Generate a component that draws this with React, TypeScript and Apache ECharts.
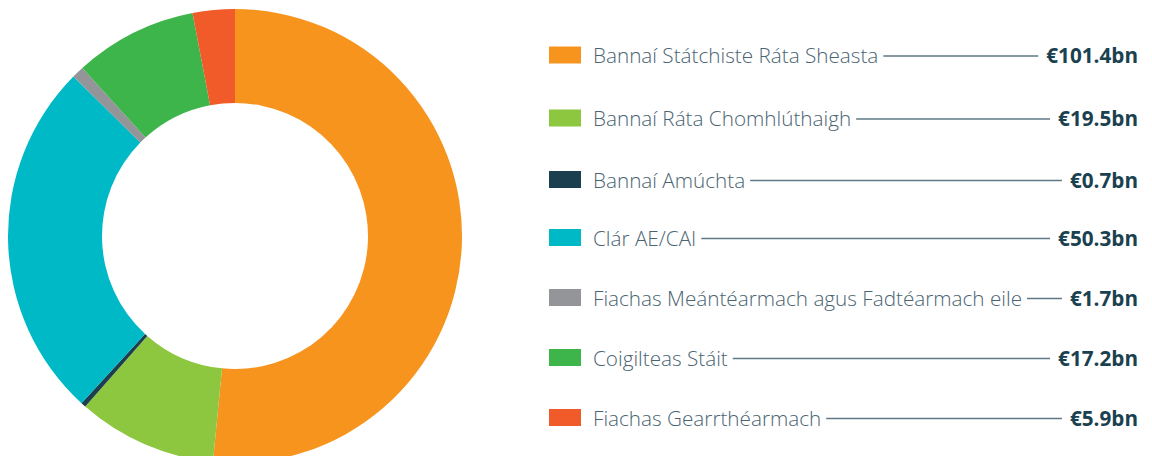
import React, { useEffect, useRef } from "react";
import * as echarts from "echarts";

const categories = [
  "Bannaí Státchiste Ráta Sheasta",
  "Bannaí Ráta Chomhlúthaigh",
  "Bannaí Amúchta",
  "Clár AE/CAI",
  "Fiachas Meántéarmach agus Fadtéarmach eile",
  "Coigilteas Stáit",
  "Fiachas Gearrthéarmach",
];
const values = [101.4, 19.5, 0.7, 50.3, 1.7, 17.2, 5.9];
const valueLabels = ["€101.4bn", "€19.5bn", "€0.7bn", "€50.3bn", "€1.7bn", "€17.2bn", "€5.9bn"];
const colors = ["#F7941E", "#8DC63F", "#1B3F4E", "#00B9C6", "#939598", "#3DB54A", "#F15A29"];

const FONT = "'Open Sans', 'Noto Sans', sans-serif";
const LABEL_SIZE = 20.7;
const rowY = [55, 118, 179.5, 237.5, 297.5, 357.5, 417.5];

function measure(text: string, font: string): number {
  const c = document.createElement("canvas").getContext("2d")!;
  c.font = font;
  return c.measureText(text).width;
}

export default function App() {
  const ref = useRef<HTMLDivElement>(null);
  useEffect(() => {
    const chart = echarts.init(ref.current!, null, { renderer: "svg" });
    const squareX = 549;
    const textX = 593;
    const rightX = 1138;
    const graphics: any[] = [];
    categories.forEach((name, i) => {
      const y = rowY[i];
      const lw = measure(name, `300 ${LABEL_SIZE}px ${FONT}`);
      const vw = measure(valueLabels[i], `700 ${LABEL_SIZE}px ${FONT}`);
      graphics.push({
        type: "rect",
        shape: { x: squareX, y: y - 8.5, width: 32, height: 17 },
        style: { fill: colors[i] },
      });
      graphics.push({
        type: "text",
        x: textX,
        y,
        style: {
          text: name,
          font: `300 ${LABEL_SIZE}px ${FONT}`,
          fill: "#4A6472",
          verticalAlign: "middle",
          align: "left",
        },
      });
      graphics.push({
        type: "line",
        shape: { x1: textX + lw + 5, y1: y + 1, x2: rightX - vw - 8, y2: y + 1 },
        style: { stroke: "#5F7A86", lineWidth: 1.3 },
      });
      graphics.push({
        type: "text",
        x: rightX,
        y,
        style: {
          text: valueLabels[i],
          font: `700 ${LABEL_SIZE}px ${FONT}`,
          fill: "#1A4150",
          verticalAlign: "middle",
          align: "right",
        },
      });
    });
    chart.setOption({
      animation: false,
      graphic: graphics,
      series: [
        {
          type: "pie",
          center: [235, 236],
          radius: [133, 227],
          startAngle: 90,
          clockwise: true,
          label: { show: false },
          labelLine: { show: false },
          silent: true,
          data: categories.map((n, i) => ({
            name: n,
            value: values[i],
            itemStyle: { color: colors[i] },
          })),
        },
      ],
    });
    return () => chart.dispose();
  }, []);
  return (
    <div
      ref={ref}
      style={{ position: "fixed", left: 0, top: 0, width: 1152, height: 456, background: "#fff" }}
    />
  );
}
